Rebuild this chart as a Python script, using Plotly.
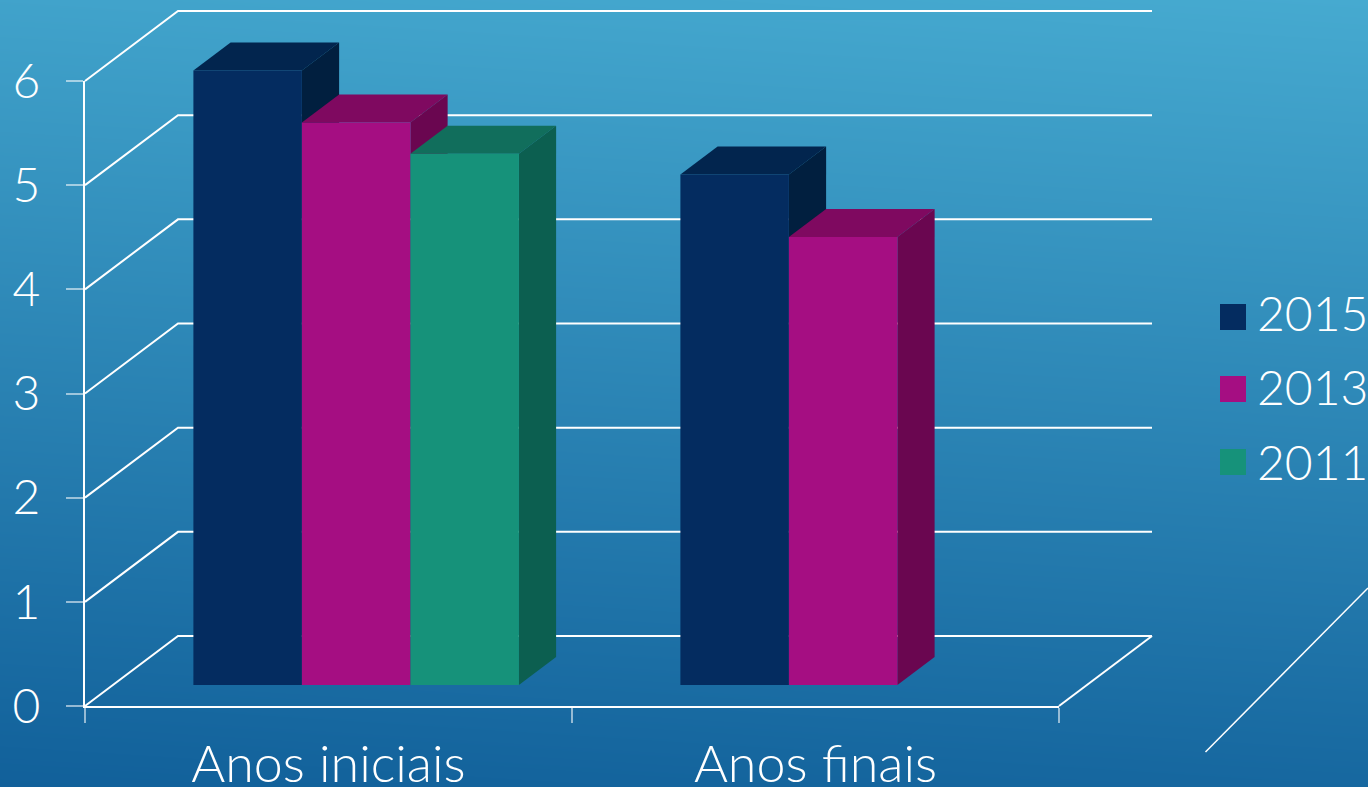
import base64, struct, zlib
import numpy as np
import plotly.graph_objects as go

categories = ["Anos iniciais", "Anos finais"]
series_names = ["2015", "2013", "2011"]
values_2015 = [5.9, 4.9]
values_2013 = [5.4, 4.3]
values_2011 = [5.1, None]
y_ticks = [0, 1, 2, 3, 4, 5, 6]

front_colors = ["#042C60", "#A50E82", "#16927A"]
top_colors = ["#02254E", "#7F0960", "#116E5C"]
side_colors = ["#011F3F", "#6A0650", "#0C5F50"]

W, H = 1368, 787
AX_L, AX_R, AX_T, AX_B = 85, 1059, 81, 706
UX = (AX_R - AX_L) / 2
UY = (AX_B - AX_T) / 6
WALL_DX = 93 / UX
WALL_DY = 70 / UY
FRONT = 0.30
BACK = 0.70
BAR_W = 108.5 / UX
GAP = 80.5 / UX


def proj(x, y, d):
    return x + d * WALL_DX, y + d * WALL_DY


def px_x(p):
    return p / W


def px_y(p):
    return 1 - p / H


def gradient_uri():
    yy, xx = np.mgrid[0:H, 0:W]
    t = (yy / H * 0.9 + (1 - xx / W) * 0.1)[..., None]
    c0 = np.array([0x46, 0xAA, 0xD0])
    c1 = np.array([0x11, 0x60, 0x9A])
    img = np.round(c0 + (c1 - c0) * t).astype(np.uint8)
    raw = b"".join(b"\x00" + img[i].tobytes() for i in range(H))

    def chunk(tag, data):
        return struct.pack(">I", len(data)) + tag + data + struct.pack(">I", zlib.crc32(tag + data))

    png = (b"\x89PNG\r\n\x1a\n" + chunk(b"IHDR", struct.pack(">IIBBBBB", W, H, 8, 2, 0, 0, 0))
           + chunk(b"IDAT", zlib.compress(raw, 9)) + chunk(b"IEND", b""))
    return "data:image/png;base64," + base64.b64encode(png).decode()


fig = go.Figure()

# walls and gridlines
gx, gy = [], []
for v in y_ticks:
    a = proj(0, v, 0)
    b = proj(0, v, 1)
    c = proj(2, v, 1)
    gx += [a[0], b[0], c[0], None]
    gy += [a[1], b[1], c[1], None]
fr = proj(2, 0, 0)
bk = proj(2, 0, 1)
gx += [fr[0], bk[0]]
gy += [fr[1], bk[1]]
fig.add_trace(go.Scatter(x=gx, y=gy, xaxis="x2", yaxis="y2", mode="lines", line=dict(color="white", width=2),
                         showlegend=False, hoverinfo="skip"))

all_values = [values_2015, values_2013, values_2011]
for c_i, cat in enumerate(categories):
    for s_i, name in enumerate(series_names):
        v = all_values[s_i][c_i]
        if v is None:
            continue
        x0 = c_i + GAP + s_i * BAR_W
        x1 = x0 + BAR_W
        top = [proj(x0, v, FRONT), proj(x1, v, FRONT), proj(x1, v, BACK), proj(x0, v, BACK)]
        side = [proj(x1, 0, FRONT), proj(x1, v, FRONT), proj(x1, v, BACK), proj(x1, 0, BACK)]
        front = [proj(x0, 0, FRONT), proj(x1, 0, FRONT), proj(x1, v, FRONT), proj(x0, v, FRONT)]
        for poly, col in ((top, top_colors[s_i]), (side, side_colors[s_i]), (front, front_colors[s_i])):
            fig.add_trace(go.Scatter(
                x=[a[0] for a in poly] + [poly[0][0]], y=[a[1] for a in poly] + [poly[0][1]],
                xaxis="x2", yaxis="y2",
                mode="lines", fill="toself", fillcolor=col, line=dict(color=col, width=0),
                showlegend=False, hoverinfo="skip"))

# legend entries (on the primary axes, which carry the ticks)
for s_i, name in enumerate(series_names):
    fig.add_trace(go.Scatter(x=[None], y=[None], mode="markers", name=name, legendgroup=name,
                             marker=dict(symbol="square", size=10, color=front_colors[s_i])))

swatch_centres = [317, 389, 462]
swatches = [dict(type="rect", xref="paper", yref="paper", x0=px_x(1220), x1=px_x(1246),
                 y0=px_y(c - 13), y1=px_y(c + 13), fillcolor=front_colors[i], line=dict(width=0))
            for i, c in enumerate(swatch_centres)]

FONT = "Lato"
fig.update_layout(
    template="none",
    width=W, height=H, autosize=False,
    margin=dict(l=0, r=0, t=0, b=0, pad=0, autoexpand=False),
    paper_bgcolor="#2A84B4", plot_bgcolor="rgba(0,0,0,0)",
    font=dict(family=FONT, color="white", size=48, weight=300),
    showlegend=True,
    legend=dict(x=px_x(1217), y=px_y(387), xanchor="left", yanchor="middle",
                bgcolor="rgba(0,0,0,0)", font=dict(family=FONT, size=48, color="white", weight=300),
                tracegroupgap=9, itemsizing="trace", traceorder="grouped"),
    xaxis=dict(domain=[px_x(AX_L), px_x(AX_R)], anchor="y", range=[0, 2], tickmode="array",
               tickvals=[0.5, 1.5], ticktext=categories, automargin=False,
               ticks="", showgrid=False, zeroline=False, showline=True, linecolor="white", linewidth=2,
               ticklabelstandoff=12, tickfont=dict(size=52),
               minor=dict(tickmode="array", tickvals=[0, 1, 2], ticks="outside", ticklen=15, tickwidth=2,
                          tickcolor="rgba(255,255,255,0.55)", showgrid=False)),
    yaxis=dict(domain=[px_y(AX_B), px_y(AX_T)], anchor="x", range=[0, 6], tickmode="array", tickvals=y_ticks,
               automargin=False, ticks="outside", ticklen=17, tickwidth=2,
               tickcolor="rgba(255,255,255,0.55)", showgrid=False, zeroline=False, showline=True,
               linecolor="white", linewidth=2, ticklabelstandoff=16),
    xaxis2=dict(domain=[0, 1], anchor="y2", visible=False, showgrid=False, zeroline=False,
                range=[-AX_L / UX, (W - AX_L) / UX]),
    yaxis2=dict(domain=[0, 1], anchor="x2", visible=False, showgrid=False, zeroline=False,
                range=[-(H - AX_B) / UY, AX_B / UY]),
    images=[dict(source=gradient_uri(), xref="paper", yref="paper", x=0, y=1,
                 sizex=1, sizey=1, xanchor="left", yanchor="top", sizing="stretch",
                 layer="below")],
    shapes=[dict(type="line", xref="paper", yref="paper", x0=px_x(1368), y0=px_y(588),
                 x1=px_x(1205.5), y1=px_y(752), line=dict(color="white", width=1.5))] + swatches,
)

fig.write_html("out.html", config={"displayModeBar": False}, post_script=(
    "document.body.style.margin='0';document.body.style.overflow='hidden';"
    "document.documentElement.style.overflow='hidden';"))
